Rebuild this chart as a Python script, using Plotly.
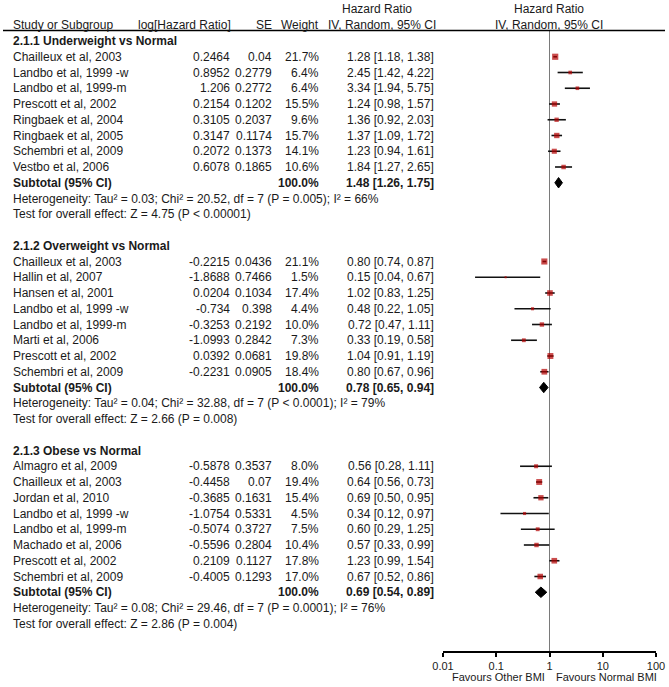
import plotly.graph_objects as go

W, H = 669, 687
FONT = "Liberation Sans, Arial, sans-serif"
TXT = "#1a1a1a"
RED = "#B40000"

# ---------------- data ----------------
headers = ["Study or Subgroup", "log[Hazard Ratio]", "SE", "Weight"]
hr_header_top = "Hazard Ratio"
hr_header_bottom = "IV, Random, 95% CI"

g1_title = "2.1.1 Underweight vs Normal"
g1_studies = ["Chailleux et al, 2003", "Landbo et al, 1999 -w", "Landbo et al, 1999-m",
              "Prescott et al, 2002", "Ringbaek et al, 2004", "Ringbaek et al, 2005",
              "Schembri et al, 2009", "Vestbo et al, 2006"]
g1_loghr = [0.2464, 0.8952, 1.206, 0.2154, 0.3105, 0.3147, 0.2072, 0.6078]
g1_se = [0.04, 0.2779, 0.2772, 0.1202, 0.2037, 0.1174, 0.1373, 0.1865]
g1_weight = [21.7, 6.4, 6.4, 15.5, 9.6, 15.7, 14.1, 10.6]
g1_hr = [1.28, 2.45, 3.34, 1.24, 1.36, 1.37, 1.23, 1.84]
g1_lo = [1.18, 1.42, 1.94, 0.98, 0.92, 1.09, 0.94, 1.27]
g1_hi = [1.38, 4.22, 5.75, 1.57, 2.03, 1.72, 1.61, 2.65]
g1_total_weight = 100.0
g1_total = [1.48, 1.26, 1.75]
g1_het = "Heterogeneity: Tau² = 0.03; Chi² = 20.52, df = 7 (P = 0.005); I² = 66%"
g1_test = "Test for overall effect: Z = 4.75 (P < 0.00001)"

g2_title = "2.1.2 Overweight vs Normal"
g2_studies = ["Chailleux et al, 2003", "Hallin et al, 2007", "Hansen et al, 2001",
              "Landbo et al, 1999 -w", "Landbo et al, 1999-m", "Marti et al, 2006",
              "Prescott et al, 2002", "Schembri et al, 2009"]
g2_loghr = [-0.2215, -1.8688, 0.0204, -0.734, -0.3253, -1.0993, 0.0392, -0.2231]
g2_se = [0.0436, 0.7466, 0.1034, 0.398, 0.2192, 0.2842, 0.0681, 0.0905]
g2_weight = [21.1, 1.5, 17.4, 4.4, 10.0, 7.3, 19.8, 18.4]
g2_hr = [0.80, 0.15, 1.02, 0.48, 0.72, 0.33, 1.04, 0.80]
g2_lo = [0.74, 0.04, 0.83, 0.22, 0.47, 0.19, 0.91, 0.67]
g2_hi = [0.87, 0.67, 1.25, 1.05, 1.11, 0.58, 1.19, 0.96]
g2_total_weight = 100.0
g2_total = [0.78, 0.65, 0.94]
g2_het = "Heterogeneity: Tau² = 0.04; Chi² = 32.88, df = 7 (P < 0.0001); I² = 79%"
g2_test = "Test for overall effect: Z = 2.66 (P = 0.008)"

g3_title = "2.1.3 Obese vs Normal"
g3_studies = ["Almagro et al, 2009", "Chailleux et al, 2003", "Jordan et al, 2010",
              "Landbo et al, 1999 -w", "Landbo et al, 1999-m", "Machado et al, 2006",
              "Prescott et al, 2002", "Schembri et al, 2009"]
g3_loghr = [-0.5878, -0.4458, -0.3685, -1.0754, -0.5074, -0.5596, 0.2109, -0.4005]
g3_se = [0.3537, 0.07, 0.1631, 0.5331, 0.3727, 0.2804, 0.1127, 0.1293]
g3_weight = [8.0, 19.4, 15.4, 4.5, 7.5, 10.4, 17.8, 17.0]
g3_hr = [0.56, 0.64, 0.69, 0.34, 0.60, 0.57, 1.23, 0.67]
g3_lo = [0.28, 0.56, 0.50, 0.12, 0.29, 0.33, 0.99, 0.52]
g3_hi = [1.11, 0.73, 0.95, 0.97, 1.25, 0.99, 1.54, 0.86]
g3_total_weight = 100.0
g3_total = [0.69, 0.54, 0.89]
g3_het = "Heterogeneity: Tau² = 0.08; Chi² = 29.46, df = 7 (P = 0.0001); I² = 76%"
g3_test = "Test for overall effect: Z = 2.86 (P = 0.004)"

x_ticks = [0.01, 0.1, 1, 10, 100]
x_tick_labels = ["0.01", "0.1", "1", "10", "100"]
favour_left = "Favours Other BMI"
favour_right = "Favours Normal BMI"
subtotal_label = "Subtotal (95% CI)"

groups = [
    (g1_title, g1_studies, g1_loghr, g1_se, g1_weight, g1_hr, g1_lo, g1_hi,
     g1_total_weight, g1_total, g1_het, g1_test),
    (g2_title, g2_studies, g2_loghr, g2_se, g2_weight, g2_hr, g2_lo, g2_hi,
     g2_total_weight, g2_total, g2_het, g2_test),
    (g3_title, g3_studies, g3_loghr, g3_se, g3_weight, g3_hr, g3_lo, g3_hi,
     g3_total_weight, g3_total, g3_het, g3_test),
]

# ---------------- layout geometry (pixels) ----------------
ROW0 = 41.0      # pixel centre of first row
ROWH = 15.75     # row pitch
AXIS_PX = 651.0  # pixel y of x axis line
X_L, X_R = 443.0, 656.0
COL_NAME = 12
COL_LOG = 231
COL_SE = 273
COL_W = 320
COL_CI = 435
COL_HR_HEAD = 377
COL_FOREST_HEAD = 549


def prow(px):
    return (px - ROW0) / ROWH


def px_x(px):
    return px / W


annotations = []


def txt(x_px, r, s, anchor="left", size=12, bold=False, yref="y"):
    annotations.append(dict(
        x=px_x(x_px), y=r, xref="paper", yref=yref, text=("<b>%s</b>" % s) if bold else s,
        showarrow=False, xanchor=anchor, yanchor="middle", borderpad=0,
        font=dict(family=FONT, size=size, color=TXT)))


# headers
r_h1, r_h2 = prow(9), prow(25)
txt(COL_NAME, r_h2, headers[0])
txt(COL_LOG + 1, r_h2, headers[1], "right")
txt(COL_SE, r_h2, headers[2], "right")
txt(COL_W, r_h2, headers[3], "right")
txt(COL_HR_HEAD, r_h1, hr_header_top, "center")
txt(COL_CI + 2, r_h2, hr_header_bottom, "right")
txt(COL_FOREST_HEAD, r_h1, hr_header_top, "center")
txt(COL_FOREST_HEAD, r_h2, hr_header_bottom, "center")

sq_x, sq_y, sq_s = [], [], []
ci_x, ci_y = [], []
dia = []

r = 0
for (title, studies, loghr, se, wt, hr, lo, hi, totw, tot, het, test) in groups:
    txt(COL_NAME, r, title, bold=True)
    for i, name in enumerate(studies):
        rr = r + 1 + i
        txt(COL_NAME, rr, name)
        txt(COL_LOG, rr, str(loghr[i]), "right")
        txt(COL_SE, rr, str(se[i]), "right")
        txt(COL_W, rr, "%.1f%%" % wt[i], "right")
        txt(COL_CI, rr, "%.2f [%.2f, %.2f]" % (hr[i], lo[i], hi[i]), "right")
        sq_x.append(hr[i]); sq_y.append(rr); sq_s.append(1.2 * wt[i] ** 0.5 + 0.6)
        ci_x += [lo[i], hi[i], None]; ci_y += [rr, rr, None]
    rs = r + 1 + len(studies)
    txt(COL_NAME, rs, subtotal_label, bold=True)
    txt(COL_W, rs, "%.1f%%" % totw, "right", bold=True)
    txt(COL_CI, rs, "%.2f [%.2f, %.2f]" % tuple(tot), "right", bold=True)
    dia.append((tot, rs))
    txt(COL_NAME, rs + 1, het)
    txt(COL_NAME, rs + 2, test)
    r = rs + 4

y_top = prow(0)
y_bot = prow(AXIS_PX)

fig = go.Figure()
fig.add_trace(go.Scatter(x=ci_x, y=ci_y, mode="lines",
                         line=dict(color="#111111", width=1.6), hoverinfo="skip"))
fig.add_trace(go.Scatter(x=sq_x, y=sq_y, mode="markers",
                         marker=dict(symbol="square", color=RED, size=sq_s, line=dict(width=0))))
for tot, rs in dia:
    est, lo, hi = tot
    h = 0.33
    fig.add_trace(go.Scatter(x=[lo, est, hi, est, lo], y=[rs, rs - h, rs, rs + h, rs],
                             mode="lines", fill="toself", fillcolor="black",
                             line=dict(color="black", width=1)))

shapes = [
    dict(type="line", xref="paper", yref="y", x0=px_x(3), x1=px_x(665),
         y0=prow(30.5), y1=prow(30.5), line=dict(color="black", width=1.5)),
    dict(type="line", xref="x", yref="y", x0=1, x1=1, y0=prow(30.5), y1=y_bot,
         line=dict(color="#7a7a7a", width=1), layer="below"),
]

annotations.append(dict(x=px_x(546), y=1 - 677 / H, xref="paper", yref="paper",
                        text=favour_left, showarrow=False, xanchor="right", yanchor="middle",
                        borderpad=0, font=dict(family=FONT, size=11, color=TXT)))
annotations.append(dict(x=px_x(555), y=1 - 677 / H, xref="paper", yref="paper",
                        text=favour_right, showarrow=False, xanchor="left", yanchor="middle",
                        borderpad=0, font=dict(family=FONT, size=11, color=TXT)))

fig.update_layout(
    width=W, height=H, autosize=False,
    margin=dict(l=0, r=0, t=0, b=0, pad=0, autoexpand=False),
    paper_bgcolor="white", plot_bgcolor="white", showlegend=False,
    shapes=shapes, annotations=annotations,
    xaxis=dict(type="log", range=[-2, 2], domain=[X_L / W, X_R / W], automargin=False,
               tickvals=x_ticks, ticktext=x_tick_labels,
               showline=True, linecolor="black", linewidth=1.5,
               ticks="outside", ticklen=4, tickwidth=1.5, tickcolor="black",
               showgrid=False, zeroline=False,
               tickfont=dict(family=FONT, size=11, color=TXT)),
    yaxis=dict(range=[y_bot, y_top], domain=[1 - AXIS_PX / H, 1], visible=False,
               automargin=False, showgrid=False, zeroline=False),
)

fig.write_html("out.html", config={"displayModeBar": False, "responsive": False},
               post_script="document.body.style.margin='0';")
